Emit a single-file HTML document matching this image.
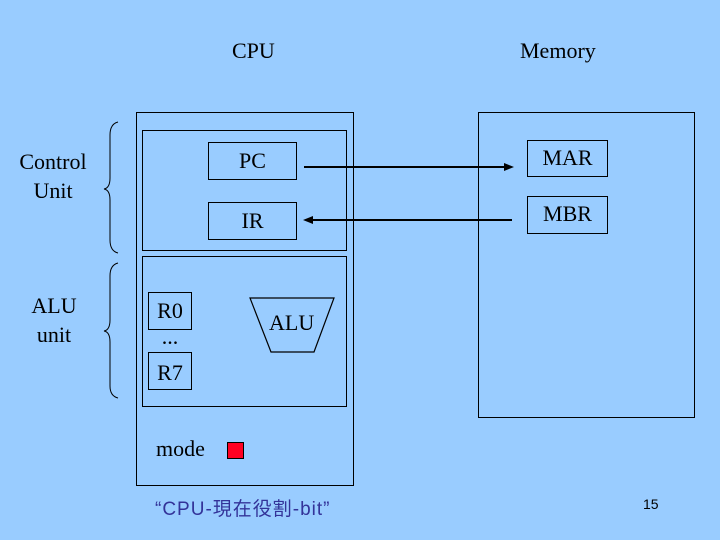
<!DOCTYPE html>
<html><head><meta charset="utf-8"><style>
body{margin:0;width:720px;height:540px;background:#99ccff;overflow:hidden;position:relative;font-family:"Liberation Serif",serif;}
.t{position:absolute;font-size:22px;color:#000;line-height:1;}
.b{position:absolute;border:1.5px solid #000;box-sizing:border-box;}
</style></head><body>
<div class="t" style="left:232px;top:40px">CPU</div>
<div class="t" style="left:520px;top:40px">Memory</div>
<div class="t" style="left:18px;top:147px;text-align:center;width:70px;line-height:29px">Control<br>Unit</div>
<div class="t" style="left:24px;top:291px;text-align:center;width:60px;line-height:29px">ALU<br>unit</div>
<div class="b" style="left:136px;top:112px;width:218px;height:374px"></div>
<div class="b" style="left:142px;top:130px;width:205px;height:121px"></div>
<div class="b" style="left:142px;top:256px;width:205px;height:151px"></div>
<div class="b" style="left:208px;top:142px;width:89px;height:38px"></div>
<div class="t" style="left:208px;top:150px;width:89px;text-align:center">PC</div>
<div class="b" style="left:208px;top:202px;width:89px;height:38px"></div>
<div class="t" style="left:208px;top:210px;width:89px;text-align:center">IR</div>
<div class="b" style="left:148px;top:292px;width:44px;height:38px"></div>
<div class="t" style="left:148px;top:300px;width:44px;text-align:center">R0</div>
<div class="t" style="left:148px;top:326px;width:44px;text-align:center">...</div>
<div class="b" style="left:148px;top:352px;width:44px;height:38px"></div>
<div class="t" style="left:148px;top:362px;width:44px;text-align:center">R7</div>
<div class="t" style="left:269px;top:312px">ALU</div>
<div class="b" style="left:478px;top:112px;width:217px;height:306px"></div>
<div class="b" style="left:527px;top:140px;width:81px;height:37px"></div>
<div class="t" style="left:527px;top:147px;width:81px;text-align:center">MAR</div>
<div class="b" style="left:527px;top:196px;width:81px;height:38px"></div>
<div class="t" style="left:527px;top:203px;width:81px;text-align:center">MBR</div>
<div class="t" style="left:156px;top:438px">mode</div>
<div style="position:absolute;left:227px;top:442px;width:17px;height:17px;background:#ff0022;border:1.5px solid #000;box-sizing:border-box"></div>
<div style="position:absolute;left:155px;top:494px;font-size:19px;letter-spacing:1px;color:#333399;font-family:'Liberation Sans','Noto Sans CJK JP',sans-serif">“CPU-現在役割-bit”</div>
<div style="position:absolute;left:643px;top:496px;font-size:14px;font-family:'Liberation Sans',sans-serif">15</div>
<svg style="position:absolute;left:0;top:0" width="720" height="540">
<polygon points="250,298 334,298 314,352 271,352" fill="none" stroke="#000" stroke-width="1.2"/>
<line x1="304" y1="167" x2="508" y2="167" stroke="#000" stroke-width="2"/>
<polygon points="514,167 504,163 504,171" fill="#000"/>
<line x1="310" y1="220" x2="512" y2="220" stroke="#000" stroke-width="2"/>
<polygon points="303,220 313,216 313,224" fill="#000"/>
<path d="M118,122 Q110,124 110,135 L110,178 Q110,188 104,189 Q110,190 110,200 L110,240 Q110,251 118,253" fill="none" stroke="#000" stroke-width="1"/>
<path d="M118,263 Q110,265 110,276 L110,320 Q110,330 104,331 Q110,332 110,342 L110,386 Q110,396 118,398" fill="none" stroke="#000" stroke-width="1"/>
</svg>
</body></html>
